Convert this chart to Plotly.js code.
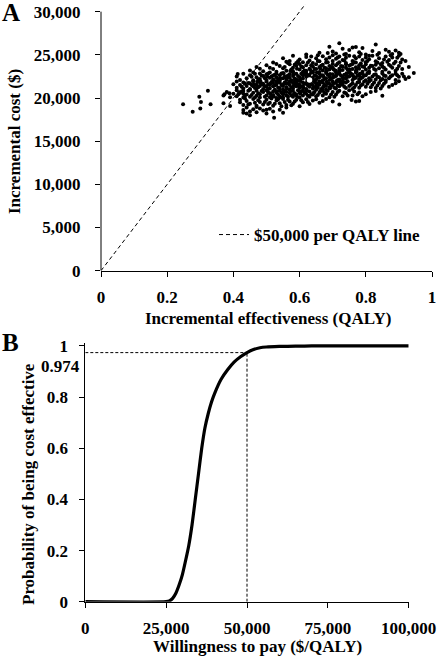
<!DOCTYPE html>
<html><head><meta charset="utf-8">
<script src="https://cdn.plot.ly/plotly-3.0.1.min.js"></script>
<style>html,body{margin:0;padding:0;background:#fff;}#chart{width:437px;height:657px;}</style>
</head><body><div id="chart"></div>
<script>
// ---------- Panel A data: probabilistic simulations (incremental QALY, incremental cost $) ----------
const simOutliers = [
  [0.248,19270],[0.277,18410],[0.297,20150],[0.302,19540],[0.300,18800],[0.323,20840],
  [0.331,19270],[0.373,20430],[0.370,19380],[0.388,20540],[0.390,19070],[0.413,22780]
];
const simBand26 = [[0.72,26350],[0.83,26200],[0.69,25950],[0.76,25850]];
const simBand25 = [
  [0.66,25250],[0.70,25400],[0.73,25700],[0.74,25100],[0.75,25550],[0.78,25300],[0.79,25800],
  [0.80,25050],[0.82,25450],[0.84,25200],[0.86,25600],[0.87,25350],[0.88,25100],[0.89,25500],
  [0.90,25250],[0.77,25900],[0.71,25150],[0.62,25050]
];
const simBand24 = [
  [0.52,24100],[0.55,24600],[0.57,24300],[0.58,24900],[0.60,24450],[0.61,24150],[0.62,24750],
  [0.63,24350],[0.64,24050],[0.65,24600],[0.66,24250],[0.67,24850],[0.68,24500],[0.68,24100],
  [0.69,24700],[0.70,24300],[0.70,24950],[0.71,24550],[0.72,24150],[0.72,24800],[0.73,24400],
  [0.74,24650],[0.74,24050],[0.75,24900],[0.76,24300],[0.77,24600],[0.77,24100],[0.78,24800],
  [0.79,24400],[0.80,24700],[0.80,24150],[0.81,24500],[0.82,24900],[0.83,24250],[0.84,24600],
  [0.85,24050],[0.86,24800],[0.87,24400],[0.88,24700],[0.89,24200],[0.90,24900],[0.91,24450],
  [0.92,24300],[0.59,24050],[0.56,24200]
];
const simBand23 = [
  [0.45,23200],[0.47,23600],[0.49,23100],[0.50,23800],[0.52,23350],[0.53,23050],[0.54,23700],
  [0.55,23450],[0.56,23150],[0.57,23900],[0.58,23500],[0.58,23100],[0.59,23750],[0.60,23300],
  [0.60,23950],[0.61,23550],[0.62,23150],[0.62,23800],[0.63,23400],[0.64,23650],[0.64,23050],
  [0.65,23900],[0.65,23350],[0.66,23600],[0.67,23200],[0.67,23850],[0.68,23450],[0.68,23050],
  [0.69,23700],[0.69,23300],[0.70,23950],[0.70,23500],[0.71,23150],[0.71,23800],[0.72,23400],
  [0.72,23000],[0.73,23650],[0.73,23250],[0.74,23900],[0.74,23500],[0.75,23100],[0.75,23750],
  [0.76,23350],[0.76,23950],[0.77,23550],[0.77,23150],[0.78,23800],[0.78,23400],[0.79,23050],
  [0.79,23650],[0.80,23300],[0.80,23900],[0.81,23500],[0.81,23100],[0.82,23700],[0.83,23250],
  [0.83,23850],[0.84,23450],[0.85,23050],[0.85,23650],[0.86,23300],[0.87,23850],[0.88,23500],
  [0.89,23150],[0.90,23700],[0.91,23350],[0.93,23600],[0.66,23000],[0.61,23000]
];
const simBand22 = [
  [0.41,22500],[0.42,22100],[0.43,22800],[0.44,22300],[0.45,22650],[0.46,22050],[0.47,22400],
  [0.48,22850],[0.48,22200],[0.49,22550],[0.50,22100],[0.50,22750],[0.51,22350],[0.51,22950],
  [0.52,22600],[0.52,22150],[0.53,22800],[0.53,22400],[0.54,22050],[0.54,22650],[0.55,22300],
  [0.55,22900],[0.56,22500],[0.56,22100],[0.57,22750],[0.57,22350],[0.58,22950],[0.58,22550],
  [0.59,22150],[0.59,22800],[0.60,22400],[0.60,22000],[0.61,22650],[0.61,22250],[0.62,22900],
  [0.62,22500],[0.63,22700],[0.64,22350],[0.64,22950],[0.65,22550],[0.65,22150],[0.66,22800],
  [0.66,22400],[0.67,22050],[0.67,22650],[0.68,22300],[0.68,22900],[0.69,22500],[0.69,22100],
  [0.70,22750],[0.70,22350],[0.71,22950],[0.71,22550],[0.72,22150],[0.72,22800],[0.73,22400],
  [0.73,22000],[0.74,22650],[0.74,22250],[0.75,22900],[0.75,22500],[0.76,22100],[0.76,22700],
  [0.77,22350],[0.77,22950],[0.78,22550],[0.78,22150],[0.79,22800],[0.79,22400],[0.80,22050],
  [0.80,22650],[0.81,22300],[0.81,22900],[0.82,22500],[0.83,22150],[0.83,22750],[0.84,22400],
  [0.85,22850],[0.85,22200],[0.86,22550],[0.87,22950],[0.87,22300],[0.88,22650],[0.89,22100],
  [0.90,22450],[0.91,22800],[0.92,22200],[0.945,22900],[0.89,22850],[0.86,22050],
  [0.555,22450],[0.585,22250],[0.615,22850],[0.645,22600],[0.675,22200],[0.705,22450],
  [0.735,22700],[0.765,22300],[0.525,22700],[0.495,22300]
];
const simBand21 = [
  [0.40,21600],[0.41,21200],[0.41,21900],[0.42,21500],[0.43,21100],[0.43,21800],[0.44,21400],
  [0.45,21050],[0.45,21700],[0.46,21350],[0.46,21950],[0.47,21550],[0.47,21150],[0.48,21800],
  [0.48,21400],[0.49,21050],[0.49,21650],[0.50,21300],[0.50,21900],[0.51,21500],[0.51,21100],
  [0.52,21750],[0.52,21350],[0.53,21950],[0.53,21550],[0.54,21150],[0.54,21800],[0.55,21400],
  [0.55,21000],[0.56,21650],[0.56,21250],[0.57,21900],[0.57,21500],[0.58,21100],[0.58,21750],
  [0.59,21350],[0.59,21950],[0.60,21550],[0.60,21150],[0.61,21800],[0.61,21400],[0.62,21050],
  [0.62,21650],[0.63,21300],[0.63,21900],[0.64,21500],[0.64,21100],[0.65,21750],[0.65,21350],
  [0.66,21950],[0.66,21550],[0.67,21150],[0.67,21800],[0.68,21400],[0.68,21000],[0.69,21650],
  [0.69,21250],[0.70,21900],[0.70,21500],[0.71,21100],[0.71,21750],[0.72,21350],[0.72,21950],
  [0.73,21550],[0.74,21150],[0.74,21800],[0.75,21400],[0.76,21700],[0.76,21050],[0.77,21500],
  [0.78,21850],[0.78,21200],[0.79,21600],[0.80,21300],[0.81,21900],[0.82,21550],[0.83,21150],
  [0.84,21750],[0.85,21400],[0.86,21850],[0.88,21500],[0.90,21950],
  [0.445,21750],[0.475,21250],[0.505,21600],[0.535,21200],[0.565,21700],[0.595,21450],
  [0.625,21850],[0.655,21200],[0.685,21700],[0.715,21450],[0.505,21050],[0.545,21500],
  [0.585,21900],[0.625,21450],[0.665,21050]
];
const simBand20 = [
  [0.37,20300],[0.38,20700],[0.39,20100],[0.40,20500],[0.41,20900],[0.41,20200],[0.42,20600],
  [0.43,20050],[0.43,20800],[0.44,20400],[0.45,20950],[0.45,20150],[0.46,20600],[0.47,20250],
  [0.47,20850],[0.48,20450],[0.48,20050],[0.49,20700],[0.50,20300],[0.50,20900],[0.51,20550],
  [0.51,20100],[0.52,20750],[0.52,20350],[0.53,20000],[0.53,20600],[0.54,20200],[0.54,20850],
  [0.55,20450],[0.55,20050],[0.56,20700],[0.56,20300],[0.57,20950],[0.57,20550],[0.58,20150],
  [0.58,20800],[0.59,20400],[0.60,20650],[0.60,20050],[0.61,20300],[0.61,20900],[0.62,20500],
  [0.63,20150],[0.63,20750],[0.64,20400],[0.65,20950],[0.65,20200],[0.66,20600],[0.67,20300],
  [0.67,20850],[0.68,20500],[0.69,20100],[0.70,20700],[0.71,20400],[0.72,20850],[0.73,20200],
  [0.74,20550],[0.75,20900],[0.76,20300],[0.78,20650],[0.80,20450],[0.83,20800],[0.85,20250],
  [0.455,20350],[0.485,20800],[0.515,20250],[0.545,20650],[0.575,20300],[0.605,20750],
  [0.635,20450],[0.465,20050],[0.525,20950]
];
const simBand19 = [
  [0.42,19500],[0.42,19800],[0.43,19200],[0.44,19650],[0.45,19350],[0.46,19900],[0.47,19100],
  [0.48,19550],[0.49,19250],[0.50,19800],[0.51,19450],[0.52,19100],[0.53,19700],[0.54,19400],
  [0.55,19900],[0.56,19200],[0.57,19600],[0.58,19350],[0.59,19800],[0.60,19050],[0.61,19500],
  [0.62,19850],[0.63,19300],[0.64,19700],[0.66,19450],[0.68,19900],[0.70,19600],[0.72,19250],
  [0.757,19770],[0.77,19600],[0.78,19650],[0.435,19950],[0.465,19450],[0.515,19950],
  [0.545,19050],[0.575,19150],[0.505,19300]
];
const simBand18 = [
  [0.43,18600],[0.43,18300],[0.44,18900],[0.45,18450],[0.45,18000],[0.46,18700],[0.47,18350],
  [0.48,18800],[0.49,18550],[0.50,18200],[0.51,18750],[0.52,18450],[0.523,17720],[0.54,18650],
  [0.55,18300],[0.56,18900]
];
const simCoreUpper = [
  [0.555,23600],[0.565,24050],[0.575,23300],[0.585,23850],[0.595,24250],[0.605,23650],[0.615,23200],
  [0.625,24100],[0.635,23800],[0.645,23350],[0.655,24300],[0.665,23750],[0.675,23500],[0.685,24150],
  [0.695,23600],[0.705,23250],[0.715,24000],[0.725,23700],[0.735,24350],[0.745,23300],[0.755,23850],
  [0.765,24150],[0.775,23450],[0.785,24000],[0.795,23600],[0.805,24300],[0.815,23750],[0.825,23350],
  [0.835,24100],[0.845,23900],[0.855,23500],[0.865,24200],[0.875,23700],[0.885,24000],[0.895,23400],
  [0.905,24100],[0.53,23950],[0.51,23500],[0.48,23400],[0.46,22950],
  [0.635,24800],[0.655,24950],[0.685,25200],[0.715,24700],[0.735,25050],[0.765,24850],[0.785,25100],
  [0.81,24900],[0.835,25000],[0.855,24450],[0.875,24950],[0.895,24650],[0.905,25100]
];
const simCoreMiddle = [
  [0.455,22450],[0.465,22800],[0.475,22150],[0.485,22600],[0.505,22850],[0.515,22500],[0.535,22200],
  [0.545,22850],[0.565,22600],[0.575,22050],[0.595,22550],[0.605,22800],[0.625,22250],[0.635,22950],
  [0.655,22350],[0.665,22600],[0.685,22700],[0.695,22250],[0.715,22100],[0.725,22600],[0.745,22450],
  [0.755,22850],[0.775,22650],[0.785,22250],[0.795,22600],[0.805,22900],[0.815,22100],[0.825,22700],
  [0.835,22450],[0.845,22050],[0.855,22600],[0.875,22500],[0.895,22650],[0.915,22500],[0.93,22400],
  [0.425,21300],[0.435,21650],[0.455,21500],[0.465,21150],[0.485,21600],[0.495,21350],[0.515,21850],
  [0.525,21450],[0.555,21800],[0.575,21250],[0.585,21550],[0.605,21300],[0.615,21650],[0.635,21600],
  [0.645,21850],[0.675,21550],[0.695,21400],[0.705,21200],[0.725,21700],[0.735,21300],[0.745,21950],
  [0.755,21550],[0.765,21250],[0.775,21800],[0.785,21450],[0.795,21900],[0.805,21650],[0.815,21250],
  [0.825,21800],[0.835,21450],[0.845,21100],[0.855,21650],[0.87,21300],[0.89,21700]
];
const simCoreLower = [
  [0.415,20450],[0.425,20750],[0.435,20300],[0.445,20850],[0.475,20550],[0.495,20150],[0.505,20650],
  [0.535,20400],[0.555,20850],[0.565,20150],[0.585,20550],[0.595,20900],[0.615,20600],[0.625,20250],
  [0.645,20700],[0.655,20350],[0.675,20600],[0.685,20850],[0.695,20400],[0.705,20150],[0.715,20700],
  [0.735,20650],[0.745,20300],[0.765,20750],[0.775,20450],[0.79,20200],[0.815,20700],[0.43,20500],
  [0.445,19250],[0.475,19750],[0.495,19550],[0.525,19350],[0.535,19850],[0.555,19550],[0.565,19800],
  [0.585,19600],[0.605,19750],[0.625,19550],[0.65,19850],[0.67,19650],[0.44,18200],[0.47,18950],
  [0.50,18650]
];
const simCoreDense = [
  [0.552,22820],[0.562,22280],[0.572,23120],[0.582,22680],[0.592,23380],[0.602,22180],[0.612,23060],
  [0.622,22620],[0.632,23280],[0.642,22080],[0.652,22960],[0.662,23420],[0.672,22520],[0.682,23140],
  [0.692,22780],[0.702,23320],[0.712,22680],[0.722,23180],[0.732,22280],[0.742,22880],[0.752,23260],
  [0.762,22520],[0.772,23060],[0.782,22820],
  [0.552,21620],[0.562,21080],[0.572,21880],[0.582,21380],[0.592,21720],[0.602,21980],[0.612,21180],
  [0.622,21760],[0.642,21280],[0.652,21620],[0.662,21820],[0.672,21340],[0.682,21880],[0.692,21120],
  [0.702,21720],[0.712,21980],[0.722,21540],[0.732,21860],
  [0.482,21920],[0.492,21480],[0.512,21680],[0.522,22080],[0.532,21760],[0.542,22280],[0.502,22480],
  [0.462,21580],[0.472,21880],
  [0.512,20480],[0.522,20180],[0.532,20780],[0.542,20080],[0.552,20580],[0.572,20780],[0.582,20380],
  [0.592,20180],[0.602,20480],[0.622,20880],[0.642,20580],[0.662,20780]
];
const meanEffect = [0.63];
const meanCost = [22080];
const wtpThreshold = 50000;   // $ per QALY
const effTicks = [0, 0.2, 0.4, 0.6, 0.8, 1];
const effTickLabels = ['0', '0.2', '0.4', '0.6', '0.8', '1'];
const costTicks = [0, 5000, 10000, 15000, 20000, 25000, 30000];

// ---------- Panel B data: cost-effectiveness acceptability curve ----------
const wtpValues = [0, 25000, 26000, 27000, 28000, 29000, 30000, 31000, 32000, 33000, 34000, 35000,
  36000, 37000, 38000, 39000, 40000, 42000, 44000, 46000, 48000, 50000, 52000, 54000, 56000,
  60000, 65000, 70000, 100000];
const probCostEffective = [0, 0, 0.003, 0.013, 0.033, 0.065, 0.105, 0.16, 0.22, 0.30, 0.40, 0.50,
  0.60, 0.68, 0.735, 0.78, 0.815, 0.87, 0.907, 0.937, 0.958, 0.974, 0.986, 0.993, 0.996,
  0.998, 0.999, 1, 1];
const probAtThreshold = 0.974;
const wtpTicks = [0, 25000, 50000, 75000, 100000];
const probTicks = [0, 0.2, 0.4, 0.6, 0.8, 1];

// ---------- build ----------
const sims = [].concat(simOutliers, simBand26, simBand25, simBand24, simBand23, simBand22,
  simBand21, simBand20, simBand19, simBand18, simCoreUpper, simCoreMiddle, simCoreLower, simCoreDense);
const W = 437, H = 657;
const fx = p => p / W;
const fy = p => 1 - p / H;
const FAM = 'Liberation Serif, Times New Roman, serif';
const bold = (size) => ({family: FAM, size: size, color: '#000', weight: 'bold'});
const FS = 17;

const yTopA = 30900;
const traces = [
  {x: sims.map(p => p[0]), y: sims.map(p => p[1]), xaxis: 'x', yaxis: 'y', type: 'scatter',
   mode: 'markers', marker: {color: '#000', size: 4}, showlegend: false, hoverinfo: 'skip'},
  {x: meanEffect, y: meanCost, xaxis: 'x', yaxis: 'y', type: 'scatter', mode: 'markers',
   marker: {color: '#fff', size: 7, line: {color: '#000', width: 1.5}}, showlegend: false},
  {x: [0, yTopA / wtpThreshold], y: [0, yTopA], xaxis: 'x', yaxis: 'y', type: 'scatter',
   mode: 'lines', line: {color: '#000', width: 1, dash: '4px,3px'},
   name: '$50,000 per QALY line', showlegend: true},
  {x: wtpValues, y: probCostEffective, xaxis: 'x2', yaxis: 'y2', type: 'scatter', mode: 'lines',
   line: {color: '#000', width: 3.2, shape: 'spline', smoothing: 0.6}, showlegend: false}
];

const axCommon = {showgrid: false, zeroline: false, ticks: 'outside', ticklen: 5, tickwidth: 1,
  tickcolor: '#000', linecolor: '#000', linewidth: 1, tickfont: bold(FS), fixedrange: true};

const layout = {
  width: W, height: H, margin: {l: 0, r: 0, t: 0, b: 0},
  paper_bgcolor: '#fff', plot_bgcolor: 'rgba(0,0,0,0)',
  font: {family: FAM, color: '#000'},
  xaxis: Object.assign({}, axCommon, {domain: [fx(101), fx(432)], range: [0, 1], anchor: 'y',
    showline: true, tickvals: effTicks, ticktext: effTickLabels, ticklabelstandoff: 6}),
  yaxis: Object.assign({}, axCommon, {domain: [fy(270.7), fy(3.9)], range: [0, yTopA], anchor: 'x',
    showline: false, tickvals: costTicks, tickformat: ',d', ticklabelstandoff: 11}),
  xaxis2: Object.assign({}, axCommon, {domain: [fx(85.3), fx(408.7)], range: [0, 100000], anchor: 'y2',
    showline: true, tickvals: wtpTicks, tickformat: ',d', ticklabelstandoff: 6}),
  yaxis2: Object.assign({}, axCommon, {domain: [fy(601.7), fy(343.4)], range: [0, 1.01], anchor: 'x2',
    showline: true, tickvals: probTicks, ticklabelstandoff: 8}),
  showlegend: true,
  legend: {x: fx(214), y: fy(235), xanchor: 'left', yanchor: 'middle', font: bold(FS),
    itemwidth: 30, bgcolor: 'rgba(0,0,0,0)', borderwidth: 0},
  shapes: [
    {type: 'line', xref: 'paper', yref: 'y', x0: fx(101), x1: fx(101), y0: 0, y1: 30000,
     line: {color: '#000', width: 1}},
    {type: 'line', xref: 'x2', yref: 'y2', x0: 0, x1: wtpThreshold, y0: probAtThreshold, y1: probAtThreshold,
     line: {color: '#000', width: 1, dash: '3px,2px'}},
    {type: 'line', xref: 'x2', yref: 'y2', x0: wtpThreshold, x1: wtpThreshold, y0: 0, y1: probAtThreshold,
     line: {color: '#000', width: 1, dash: '3px,2px'}}
  ],
  annotations: [
    {text: 'A', xref: 'paper', yref: 'paper', x: fx(11), y: fy(12), xanchor: 'center', yanchor: 'middle',
     showarrow: false, font: bold(25)},
    {text: 'B', xref: 'paper', yref: 'paper', x: fx(10), y: fy(342), xanchor: 'center', yanchor: 'middle',
     showarrow: false, font: bold(25)},
    {text: 'Incremental effectiveness (QALY)', xref: 'paper', yref: 'paper', x: fx(267.5), y: fy(318),
     xanchor: 'center', yanchor: 'middle', showarrow: false, font: bold(FS)},
    {text: 'Incremental cost ($)', xref: 'paper', yref: 'paper', x: fx(14.5), y: fy(141.5),
     xanchor: 'center', yanchor: 'middle', textangle: -90, showarrow: false, font: bold(FS)},
    {text: 'Willingness to pay ($/QALY)', xref: 'paper', yref: 'paper', x: fx(257.5), y: fy(646),
     xanchor: 'center', yanchor: 'middle', showarrow: false, font: bold(FS)},
    {text: 'Probability of being cost effective', xref: 'paper', yref: 'paper', x: fx(28), y: fy(484),
     xanchor: 'center', yanchor: 'middle', textangle: -90, showarrow: false, font: bold(FS)},
    {text: String(probAtThreshold), xref: 'paper', yref: 'paper', x: fx(82), y: fy(366),
     xanchor: 'right', yanchor: 'middle', showarrow: false, font: bold(FS)}
  ]
};

Plotly.newPlot('chart', traces, layout, {displayModeBar: false, staticPlot: true});
</script>
</body></html>
